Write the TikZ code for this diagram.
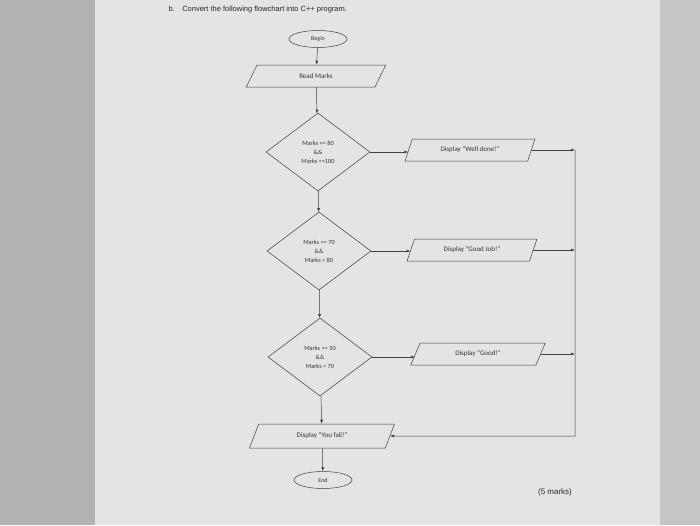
\documentclass[tikz,border=0pt]{standalone}
\usepackage{fontspec}
\setmainfont{Carlito}
\newfontfamily\arialf{Liberation Sans}
\usetikzlibrary{shapes.geometric,arrows.meta}
\begin{document}
\begin{tikzpicture}[x=1pt,y=-1pt,
  base/.style={draw=black!75,fill=paper,font=\fontsize{7}{8}\selectfont,text=black!80,line width=0.5pt},
  term/.style={base,ellipse,minimum width=58pt,minimum height=17pt,inner sep=0pt,font=\fontsize{6}{7}\selectfont},
  io/.style={base,trapezium,trapezium left angle=65,trapezium right angle=115,trapezium stretches=true,minimum width=#1,minimum height=22pt,inner sep=1pt},
  dec/.style={base,diamond,minimum width=104pt,minimum height=78pt,inner sep=0pt,align=center,font=\fontsize{6.3}{9}\selectfont},
  conn/.style={draw=black!75,line width=0.5pt,-{Latex[length=4pt,width=3pt]}}]
\definecolor{paper}{HTML}{E4E5E3}
\fill[gray!45] (0,0) rectangle (700,525);
\fill[paper] (95,0) rectangle (660,525);
\fill[black!30] (0,0) rectangle (95,525);
\useasboundingbox (0,0) rectangle (700,525);
\node[anchor=west,font=\arialf\fontsize{7.5}{9}\selectfont,text=black!85] (title) at (165,10) {b.\quad Convert the following flowchart into C++ program.};
\node[term] (begin) at (318,39) {Begin};
\node[io=140pt] (read) at (316,76) {Read Marks};
\node[dec] (d1) at (318,152) {Marks >= 80\\\&\&\\Marks <=100};
\node[io=130pt] (p1) at (470,150) {Display ``Well done!''};
\node[dec] (d2) at (319,251) {Marks >= 70\\\&\&\\Marks < 80};
\node[io=130pt] (p2) at (472,250) {Display ``Good Job!''};
\node[dec] (d3) at (320,357) {Marks >= 50\\\&\&\\Marks < 70};
\node[io=135pt] (p3) at (478,354) {Display ``Good!''};
\node[io=145pt,minimum height=24pt] (fail) at (322,436) {Display ``You fail!''};
\node[term] (end) at (323,480) {End};
\node[font=\arialf\fontsize{8}{9}\selectfont,text=black!85] (marks) at (555,492) {(5 marks)};
\coordinate (r1) at (575,150);
\coordinate (r4) at (578,436);
\draw[conn] (begin) -- (read);
\draw[conn] (read) -- (d1);
\draw[conn] (d1) -- (d2);
\draw[conn] (d2) -- (d3);
\draw[conn] (d3) -- (fail);
\draw[conn] (fail) -- (end);
\draw[conn] (d1.east) -- (p1.west |- d1.east);
\draw[conn] (d2.east) -- (p2.west |- d2.east);
\draw[conn] (d3.east) -- (p3.west |- d3.east);
\draw[conn] (p1.east) -- (r1 |- p1.east);
\draw[conn] (p2.east) -- (r1 |- p2.east);
\draw[conn] (p3.east) -- (r1 |- p3.east);
\draw[conn] (r1) -- (r1 |- r4) -- (fail.east);
\end{tikzpicture}
\end{document}
